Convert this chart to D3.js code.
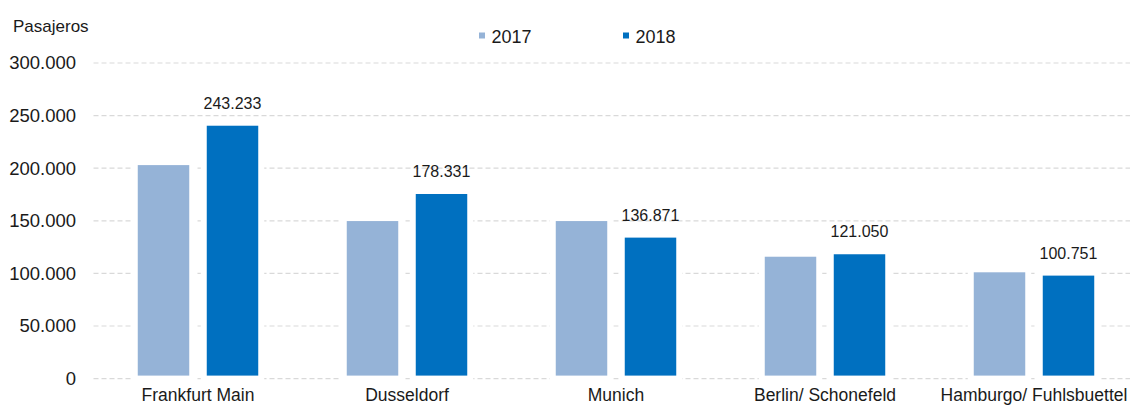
<!DOCTYPE html>
<html>
<head>
<meta charset="utf-8">
<script src="https://cdn.jsdelivr.net/npm/d3@7"></script>
<style>
  body { margin: 0; background: #fff; }
  svg { display: block; font-family: "Liberation Sans", Arial, sans-serif; }
</style>
</head>
<body>
<div id="viz"></div>
<script>
const airports = ["Frankfurt Main", "Dusseldorf", "Munich", "Berlin/ Schonefeld", "Hamburgo/ Fuhlsbuettel"];
const years = ["2017", "2018"];
const pax2017 = [205800, 152600, 152600, 118700, 103900];
const pax2018 = [243233, 178331, 136871, 121050, 100751];
const yTicks = [0, 50000, 100000, 150000, 200000, 250000, 300000];
const colors = ["#95b3d7", "#0070c0"];

const W = 1130, H = 405;
const textColor = "#1a1a1a";

const locale = d3.formatLocale({decimal: ",", thousands: ".", grouping: [3], currency: ["", ""]});
const fmt = locale.format(",d");

// one row per airport, one value per year
const rows = airports.map((a, i) => ({name: a, values: [pax2017[i], pax2018[i]]}));

const y = d3.scaleLinear().domain([0, 300000]).range([378.6, 63]);
const x0 = d3.scaleBand().domain(airports).range([93.5, 1138.5]).padding(0);
const x1 = d3.scaleBand().domain(years).range([0, x0.bandwidth()])
  .paddingInner(0.1667).paddingOuter(0.598);
const color = d3.scaleOrdinal().domain(years).range(colors);

const svg = d3.select("#viz").append("svg")
  .attr("width", W)
  .attr("height", H);

// dashed gridlines
svg.append("g")
  .selectAll("line")
  .data(yTicks)
  .join("line")
    .attr("x1", 93.5)
    .attr("x2", 1140)
    .attr("y1", d => y(d))
    .attr("y2", d => y(d))
    .attr("stroke", "#d9d9d9")
    .attr("stroke-width", 1.2)
    .attr("stroke-dasharray", "5,3");

// y axis labels
const yAxis = svg.append("g")
  .attr("transform", "translate(76,0)")
  .call(d3.axisLeft(y).tickValues(yTicks).tickFormat(fmt).tickSize(0).tickPadding(0));
yAxis.select(".domain").remove();
yAxis.selectAll("text")
  .attr("font-size", "18.5px")
  .attr("font-family", "Liberation Sans, Arial, sans-serif")
  .attr("fill", textColor);

// bars
const group = svg.append("g")
  .selectAll("g")
  .data(rows)
  .join("g")
    .attr("transform", d => `translate(${x0(d.name)},0)`);

group.selectAll("rect")
  .data(d => d.values.map((v, j) => ({year: years[j], v: v})))
  .join("rect")
    .attr("x", d => x1(d.year))
    .attr("y", d => y(d.v))
    .attr("width", x1.bandwidth())
    .attr("height", d => y(0) - y(d.v))
    .attr("fill", d => color(d.year))
    .attr("stroke", "#fff")
    .attr("stroke-width", 6);

// value labels on the 2018 bars
group.append("text")
  .attr("x", x1("2018") + x1.bandwidth() / 2)
  .attr("y", d => y(d.values[1]) - 14)
  .attr("text-anchor", "middle")
  .attr("font-size", "16px")
  .attr("fill", textColor)
  .text(d => fmt(d.values[1]));

// category labels
svg.append("g")
  .selectAll("text")
  .data(airports)
  .join("text")
    .attr("x", d => x0(d) + x0.bandwidth() / 2)
    .attr("y", 401)
    .attr("text-anchor", "middle")
    .attr("font-size", "17.5px")
    .attr("fill", textColor)
    .text(d => d);

// axis title
svg.append("text")
  .attr("x", 13)
  .attr("y", 32)
  .attr("font-size", "17px")
  .attr("fill", textColor)
  .text("Pasajeros");

// legend
const legendX = d3.scaleOrdinal().domain(years).range([479, 623]);
const legend = svg.append("g")
  .selectAll("g")
  .data(years)
  .join("g")
    .attr("transform", d => `translate(${legendX(d)},0)`);

legend.append("rect")
  .attr("x", 0)
  .attr("y", 32.5)
  .attr("width", 6)
  .attr("height", 6)
  .attr("fill", d => color(d));

legend.append("text")
  .attr("x", 12.5)
  .attr("y", 43)
  .attr("font-size", "18px")
  .attr("fill", textColor)
  .text(d => d);
</script>
</body>
</html>
